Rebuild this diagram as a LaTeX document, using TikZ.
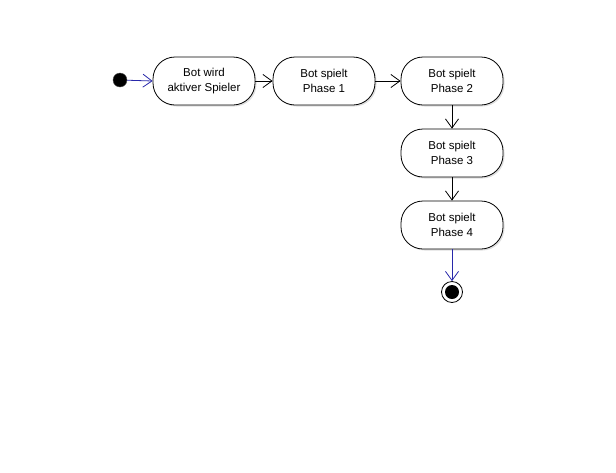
\documentclass[tikz,border=0pt]{standalone}
\usepackage{fontspec}
\setmainfont{Liberation Sans}
\usetikzlibrary{arrows.meta,shadows}
\definecolor{umlblue}{RGB}{40,40,170}

\begin{document}
\begin{tikzpicture}[
  x=1pt,y=-1pt,
  >={Straight Barb[length=9pt,width=13pt]},
  flow/.style={->,draw=black,line width=0.8pt},
  bflow/.style={->,draw=umlblue,line width=0.8pt},
  act/.style={draw=black,fill=white,line width=0.8pt,rounded corners=22pt,
    minimum width=102pt,minimum height=48pt,align=center,
    font=\fontsize{11.5}{15.5}\selectfont,
    drop shadow={shadow xshift=1.5pt,shadow yshift=-1.5pt,opacity=0.25}},
  dot/.style={circle,fill=black,inner sep=0pt}
]
\useasboundingbox (0,0) rectangle (616,472);

\node[dot,draw=black!70,minimum size=14pt] (start) at (120,80) {};

\node[act] (aktiv) at (204,81) {Bot wird\\aktiver Spieler};
\node[act] (ph1) at (324,81) {Bot spielt\\Phase 1};
\node[act] (ph2) at (452,81) {Bot spielt\\Phase 2};
\node[act] (ph3) at (452,153) {Bot spielt\\Phase 3};
\node[act] (ph4) at (452,225) {Bot spielt\\Phase 4};

\node[circle,draw=black,fill=white,line width=0.8pt,minimum size=21pt]
  (ende) at (452,292) {};
\node[dot,minimum size=14pt] (endedot) at (ende.center) {};

\draw[bflow] (start) -- (aktiv.west);
\draw[flow] (aktiv.east) -- (ph1.west);
\draw[flow] (ph1.east) -- (ph2.west);
\draw[flow] (ph2.south) -- (ph3.north);
\draw[flow] (ph3.south) -- (ph4.north);
\draw[bflow] (ph4.south) -- (ende.north);
\end{tikzpicture}
\end{document}
